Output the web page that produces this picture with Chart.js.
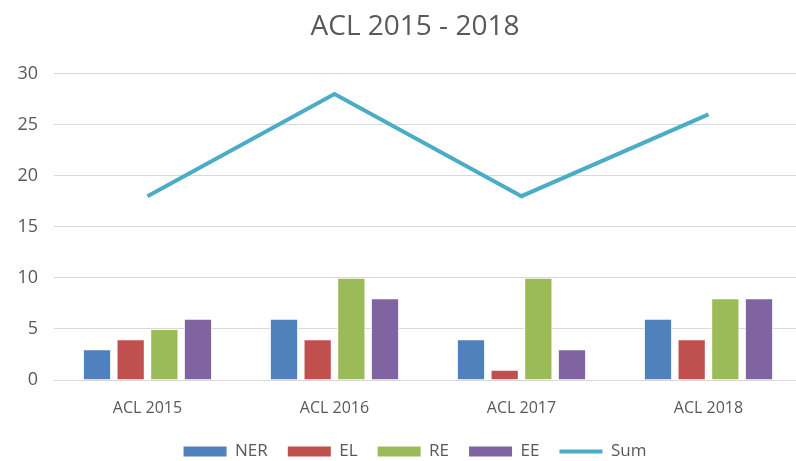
<!DOCTYPE html>
<html>
<head>
<meta charset="utf-8">
<script src="https://cdn.jsdelivr.net/npm/chart.js@4/dist/chart.umd.min.js"></script>
<style>
  html, body { margin: 0; padding: 0; background: #fff; overflow: hidden; }
  #wrap { width: 846px; height: 461px; }
</style>
</head>
<body>
<div id="wrap"><canvas id="aclChart"></canvas></div>
<script>
const categories = ['ACL 2015', 'ACL 2016', 'ACL 2017', 'ACL 2018'];
const ner = [3, 6, 4, 6];
const el = [4, 4, 1, 4];
const re = [5, 10, 10, 8];
const ee = [6, 8, 3, 8];
const sum = [18, 28, 18, 26];

const textColor = '#595959';
const fontFamily = "'Open Sans', 'Noto Sans', sans-serif";

function barSet(label, data, color) {
  return {
    type: 'bar', label: label, data: data,
    backgroundColor: color, borderColor: '#ffffff', borderWidth: 1,
    categoryPercentage: 0.72, barPercentage: 0.84, order: 2
  };
}

// let the narrow y axis labels draw past the left padding
const widenYLabels = {
  id: 'widenYLabels',
  afterLayout: function (chart) { chart.scales.y.left = 0; }
};

const ctx = document.getElementById('aclChart').getContext('2d');
new Chart(ctx, {
  data: {
    labels: categories,
    datasets: [
      barSet('NER', ner, '#4f81bd'),
      barSet('EL', el, '#c0504d'),
      barSet('RE', re, '#9bbb59'),
      barSet('EE', ee, '#8064a2'),
      {
        type: 'line', label: 'Sum', data: sum,
        borderColor: '#4bacc6', backgroundColor: '#4bacc6',
        borderWidth: 4, pointRadius: 0, tension: 0, order: 1
      }
    ]
  },
  plugins: [widenYLabels],
  options: {
    responsive: true,
    maintainAspectRatio: false,
    animation: false,
    layout: { padding: { left: 28, right: 44, top: 4, bottom: -9 } },
    scales: {
      x: {
        grid: { display: false },
        border: { color: '#d9d9d9' },
        ticks: { color: textColor, font: { family: fontFamily, size: 16 }, padding: 11 },
        afterFit: function (scale) { scale.height = 43; }
      },
      y: {
        min: 0, max: 30,
        ticks: { stepSize: 5, color: textColor, font: { family: fontFamily, size: 18 }, padding: 16 },
        grid: { color: '#d9d9d9', drawTicks: false },
        border: { display: false },
        afterFit: function (scale) { scale.width = 26; }
      }
    },
    plugins: {
      title: {
        display: true, text: 'ACL 2015 - 2018',
        color: textColor,
        font: { family: fontFamily, size: 28, weight: 'normal' },
        padding: { top: 6, bottom: 30 }
      },
      legend: {
        position: 'bottom',
        labels: {
          color: textColor,
          font: { family: fontFamily, size: 17 },
          usePointStyle: true,
          pointStyleWidth: 43,
          boxHeight: 10,
          padding: 20,
          sort: function (a, b) { return a.datasetIndex - b.datasetIndex; },
          generateLabels: function (chart) {
            const items = Chart.defaults.plugins.legend.labels.generateLabels(chart);
            items.forEach(function (it) {
              const ds = chart.data.datasets[it.datasetIndex];
              if (ds.type === 'line') {
                it.pointStyle = 'line';
                it.lineWidth = 4;
                it.strokeStyle = ds.borderColor;
              } else {
                it.pointStyle = 'rect';
                it.lineWidth = 0;
              }
            });
            return items;
          }
        }
      }
    }
  }
});
</script>
</body>
</html>
